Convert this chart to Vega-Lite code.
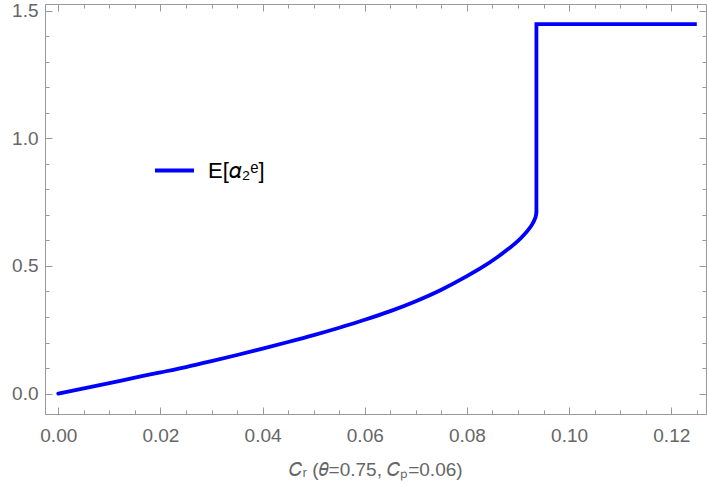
{
  "$schema": "https://vega.github.io/schema/vega-lite/v6.json",
  "width": 661,
  "height": 410,
  "autosize": {"type": "none"},
  "padding": {"left": 45, "top": 4, "right": 1, "bottom": 79},
  "config": {
    "view": {"stroke": "#999999", "strokeWidth": 1},
    "axis": {
      "grid": false,
      "domain": false,
      "tickColor": "#999999",
      "labelFont": "Liberation Sans",
      "labelFontSize": 19,
      "labelColor": "#666666",
      "titleFont": "Liberation Sans",
      "titleColor": "#666666",
      "titleFontSize": 19,
      "titleFontWeight": "normal"
    }
  },
  "data": {
    "values": [
      {"part": "curve", "i": 0, "x": 0, "y": 0},
      {"part": "curve", "i": 1, "x": 0.005, "y": 0.0203},
      {"part": "curve", "i": 2, "x": 0.01, "y": 0.041},
      {"part": "curve", "i": 3, "x": 0.015, "y": 0.0625},
      {"part": "curve", "i": 4, "x": 0.02, "y": 0.083},
      {"part": "curve", "i": 5, "x": 0.025, "y": 0.104},
      {"part": "curve", "i": 6, "x": 0.03, "y": 0.127},
      {"part": "curve", "i": 7, "x": 0.035, "y": 0.151},
      {"part": "curve", "i": 8, "x": 0.04, "y": 0.176},
      {"part": "curve", "i": 9, "x": 0.045, "y": 0.202},
      {"part": "curve", "i": 10, "x": 0.05, "y": 0.229},
      {"part": "curve", "i": 11, "x": 0.055, "y": 0.258},
      {"part": "curve", "i": 12, "x": 0.06, "y": 0.289},
      {"part": "curve", "i": 13, "x": 0.065, "y": 0.323},
      {"part": "curve", "i": 14, "x": 0.07, "y": 0.362},
      {"part": "curve", "i": 15, "x": 0.075, "y": 0.407},
      {"part": "curve", "i": 16, "x": 0.08, "y": 0.46},
      {"part": "curve", "i": 17, "x": 0.083, "y": 0.495},
      {"part": "curve", "i": 18, "x": 0.086, "y": 0.535},
      {"part": "curve", "i": 19, "x": 0.088, "y": 0.565},
      {"part": "curve", "i": 20, "x": 0.09, "y": 0.598},
      {"part": "curve", "i": 21, "x": 0.091, "y": 0.618},
      {"part": "curve", "i": 22, "x": 0.092, "y": 0.641},
      {"part": "curve", "i": 23, "x": 0.0928, "y": 0.664},
      {"part": "curve", "i": 24, "x": 0.0933, "y": 0.684},
      {"part": "curve", "i": 25, "x": 0.0935, "y": 0.697},
      {"part": "curve", "i": 26, "x": 0.0936, "y": 0.709},
      {"part": "step", "i": 27, "x": 0.0936, "y": 0.709},
      {"part": "step", "i": 28, "x": 0.0936, "y": 1.447},
      {"part": "step", "i": 29, "x": 0.125, "y": 1.447}
    ]
  },
  "layer": [
    {
      "transform": [{"filter": "datum.part === 'curve'"}],
      "mark": {"type": "line", "strokeWidth": 3.8, "strokeCap": "round", "interpolate": "monotone"},
      "encoding": {
        "x": {
          "field": "x", "type": "quantitative",
          "scale": {"domain": [-0.0026, 0.1268], "nice": false, "zero": false},
          "axis": {
            "orient": "bottom",
            "values": [0, 0.02, 0.04, 0.06, 0.08, 0.1, 0.12],
            "format": ".2f",
            "tickSize": -7,
            "labelPadding": 19,
            "title": "𝐶ᵣ (𝜃=0.75, 𝐶ₚ=0.06)",
            "titlePadding": 15
          }
        },
        "y": {
          "field": "y", "type": "quantitative",
          "scale": {"domain": [-0.08, 1.526], "nice": false, "zero": false},
          "axis": {
            "orient": "left",
            "values": [0, 0.5, 1, 1.5],
            "format": ".1f",
            "tickSize": -7,
            "labelPadding": 14,
            "title": null
          }
        },
        "order": {"field": "i", "type": "quantitative"},
        "color": {
          "datum": "E[𝛼₂ᵉ]",
          "scale": {"range": ["#0000ff"]},
          "legend": {
            "orient": "none",
            "legendX": 108,
            "legendY": 145,
            "title": null,
            "symbolType": "stroke",
            "symbolSize": 1521,
            "symbolStrokeWidth": 3.8,
            "labelFont": "Liberation Sans",
            "labelFontSize": 22,
            "labelColor": "#000000",
            "labelOffset": 12,
            "padding": 0
          }
        }
      }
    },
    {
      "transform": [{"filter": "datum.part === 'step'"}],
      "mark": {"type": "line", "strokeWidth": 3.8, "strokeJoin": "miter", "strokeCap": "butt", "color": "#0000ff"},
      "encoding": {
        "x": {
          "field": "x", "type": "quantitative",
          "scale": {"domain": [-0.0026, 0.1268], "nice": false, "zero": false},
          "axis": {
            "orient": "bottom",
            "values": [0.005, 0.01, 0.015, 0.025, 0.03, 0.035, 0.045, 0.05, 0.055, 0.065, 0.07, 0.075, 0.085, 0.09, 0.095, 0.105, 0.11, 0.115, 0.125],
            "tickSize": -4, "labels": false, "title": null
          }
        },
        "y": {
          "field": "y", "type": "quantitative",
          "scale": {"domain": [-0.08, 1.526], "nice": false, "zero": false},
          "axis": {
            "orient": "left",
            "values": [0.1, 0.2, 0.3, 0.4, 0.6, 0.7, 0.8, 0.9, 1.1, 1.2, 1.3, 1.4],
            "tickSize": -4, "labels": false, "title": null
          }
        },
        "order": {"field": "i", "type": "quantitative"}
      }
    },
    {
      "mark": {"type": "line", "opacity": 0},
      "encoding": {
        "x": {
          "field": "x", "type": "quantitative",
          "scale": {"domain": [-0.0026, 0.1268], "nice": false, "zero": false},
          "axis": {
            "orient": "top",
            "values": [0, 0.02, 0.04, 0.06, 0.08, 0.1, 0.12],
            "tickSize": -7, "labels": false, "title": null
          }
        },
        "y": {
          "field": "y", "type": "quantitative",
          "scale": {"domain": [-0.08, 1.526], "nice": false, "zero": false},
          "axis": {
            "orient": "right",
            "values": [0, 0.5, 1, 1.5],
            "tickSize": -7, "labels": false, "title": null
          }
        }
      }
    },
    {
      "mark": {"type": "line", "opacity": 0},
      "encoding": {
        "x": {
          "field": "x", "type": "quantitative",
          "scale": {"domain": [-0.0026, 0.1268], "nice": false, "zero": false},
          "axis": {
            "orient": "top",
            "values": [0.005, 0.01, 0.015, 0.025, 0.03, 0.035, 0.045, 0.05, 0.055, 0.065, 0.07, 0.075, 0.085, 0.09, 0.095, 0.105, 0.11, 0.115, 0.125],
            "tickSize": -4, "labels": false, "title": null
          }
        },
        "y": {
          "field": "y", "type": "quantitative",
          "scale": {"domain": [-0.08, 1.526], "nice": false, "zero": false},
          "axis": {
            "orient": "right",
            "values": [0.1, 0.2, 0.3, 0.4, 0.6, 0.7, 0.8, 0.9, 1.1, 1.2, 1.3, 1.4],
            "tickSize": -4, "labels": false, "title": null
          }
        }
      }
    }
  ],
  "resolve": {"axis": {"x": "independent", "y": "independent"}}
}
